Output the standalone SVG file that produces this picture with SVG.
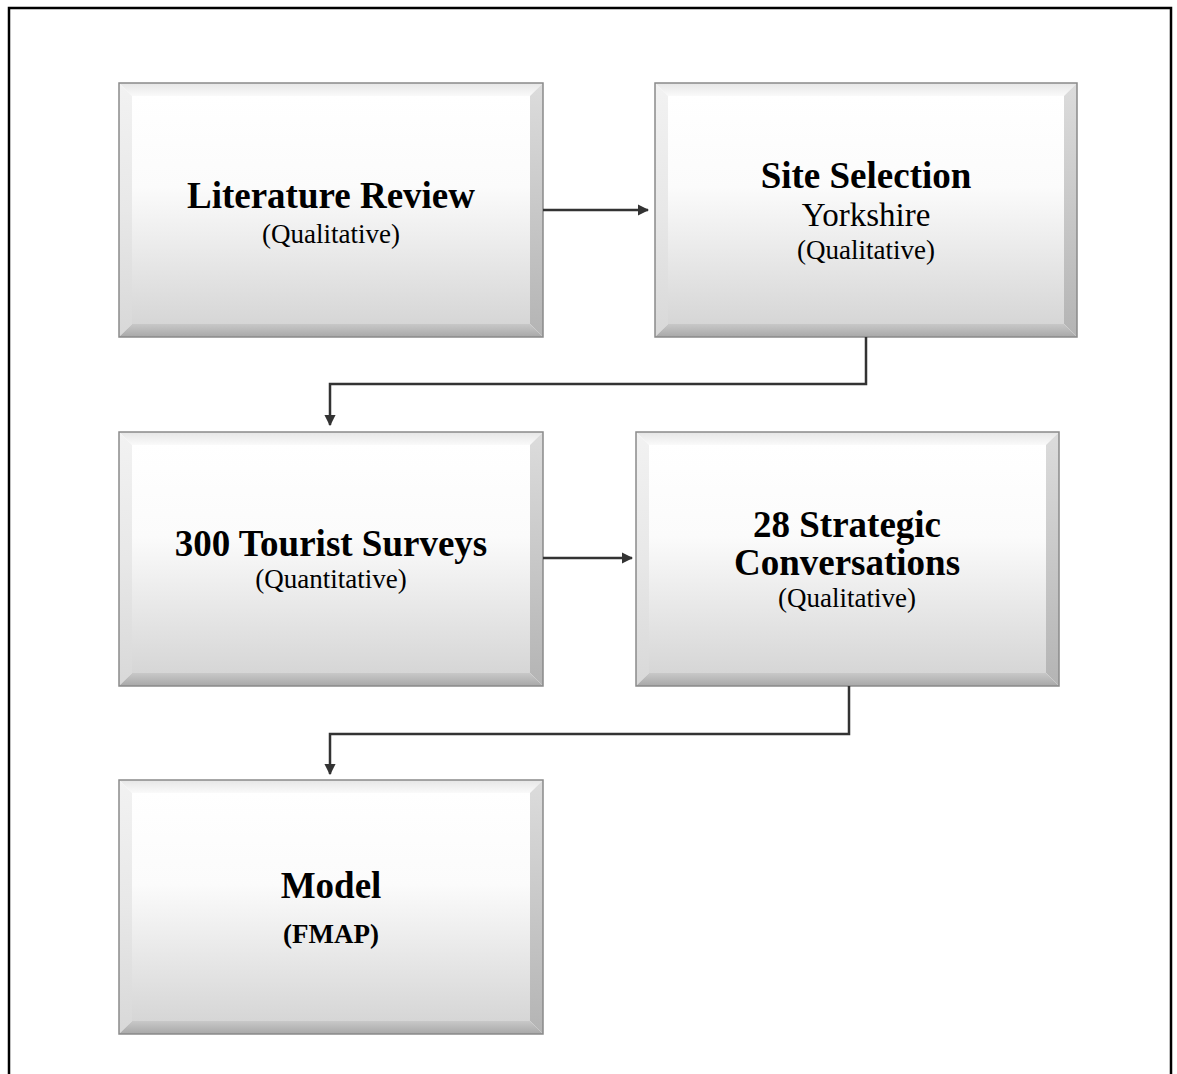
<svg xmlns="http://www.w3.org/2000/svg" width="1177" height="1074" viewBox="0 0 1177 1074">
<style>
.face{fill:url(#faceG)}
.bt{fill:url(#topG)}
.bl{fill:url(#leftG)}
.br{fill:url(#rightG)}
.bb{fill:url(#botG)}
.edge{fill:none;stroke:#8a8a8a;stroke-width:1.5}
.t{font-family:"Liberation Serif","Times New Roman",serif;text-anchor:middle;fill:#000}
.h{font-weight:bold;font-size:37px}
.s{font-size:27px}
.m{font-size:33px}
.conn{fill:none;stroke:#333;stroke-width:2.5}
</style>
<defs>
<linearGradient id="faceG" x1="0" y1="0" x2="0" y2="1">
<stop offset="0" stop-color="#ffffff"/>
<stop offset="0.4" stop-color="#fbfbfb"/>
<stop offset="1" stop-color="#d6d6d6"/>
</linearGradient>
<linearGradient id="topG" x1="0" y1="0" x2="0" y2="1">
<stop offset="0" stop-color="#e6e6e6"/>
<stop offset="1" stop-color="#fafafa"/>
</linearGradient>
<linearGradient id="leftG" x1="0" y1="0" x2="0" y2="1">
<stop offset="0" stop-color="#f2f2f2"/>
<stop offset="0.5" stop-color="#e8e8e8"/>
<stop offset="1" stop-color="#d8d8d8"/>
</linearGradient>
<linearGradient id="rightG" x1="0" y1="0" x2="0" y2="1">
<stop offset="0" stop-color="#dcdcdc"/>
<stop offset="1" stop-color="#b4b4b4"/>
</linearGradient>
<linearGradient id="botG" x1="0" y1="0" x2="0" y2="1">
<stop offset="0" stop-color="#c8c8c8"/>
<stop offset="1" stop-color="#a8a8a8"/>
</linearGradient>
<marker id="arr" viewBox="0 0 10 10" refX="9" refY="5" markerWidth="4.5" markerHeight="4.5" orient="auto" markerUnits="strokeWidth">
<path d="M0,0 L10,5 L0,10 z" fill="#333"/>
</marker>
</defs>
<rect x="0" y="0" width="1177" height="1074" fill="#fff"/>
<path d="M9,1074 V8 H1171 V1074" fill="none" stroke="#000" stroke-width="2.5"/>

<g id="node-literature" transform="translate(119,83)">
<polygon class="bt" points="0,0 424,0 411,13 13,13"/>
<polygon class="bl" points="0,0 13,13 13,241 0,254"/>
<polygon class="br" points="424,0 424,254 411,241 411,13"/>
<polygon class="bb" points="0,254 13,241 411,241 424,254"/>
<rect class="face" x="13" y="13" width="398" height="228"/>
<rect class="edge" x="0" y="0" width="424" height="254"/>
<text class="t h" x="212" y="125">Literature Review</text>
<text class="t s" x="212" y="160">(Qualitative)</text>
</g>

<g id="node-site" transform="translate(655,83)">
<polygon class="bt" points="0,0 422,0 409,13 13,13"/>
<polygon class="bl" points="0,0 13,13 13,241 0,254"/>
<polygon class="br" points="422,0 422,254 409,241 409,13"/>
<polygon class="bb" points="0,254 13,241 409,241 422,254"/>
<rect class="face" x="13" y="13" width="396" height="228"/>
<rect class="edge" x="0" y="0" width="422" height="254"/>
<text class="t h" x="211" y="105">Site Selection</text>
<text class="t m" x="211" y="143">Yorkshire</text>
<text class="t s" x="211" y="176">(Qualitative)</text>
</g>

<g id="node-surveys" transform="translate(119,432)">
<polygon class="bt" points="0,0 424,0 411,13 13,13"/>
<polygon class="bl" points="0,0 13,13 13,241 0,254"/>
<polygon class="br" points="424,0 424,254 411,241 411,13"/>
<polygon class="bb" points="0,254 13,241 411,241 424,254"/>
<rect class="face" x="13" y="13" width="398" height="228"/>
<rect class="edge" x="0" y="0" width="424" height="254"/>
<text class="t h" x="212" y="124">300 Tourist Surveys</text>
<text class="t s" x="212" y="156">(Quantitative)</text>
</g>

<g id="node-conversations" transform="translate(636,432)">
<polygon class="bt" points="0,0 423,0 410,13 13,13"/>
<polygon class="bl" points="0,0 13,13 13,241 0,254"/>
<polygon class="br" points="423,0 423,254 410,241 410,13"/>
<polygon class="bb" points="0,254 13,241 410,241 423,254"/>
<rect class="face" x="13" y="13" width="397" height="228"/>
<rect class="edge" x="0" y="0" width="423" height="254"/>
<text class="t h" x="211" y="105">28 Strategic</text>
<text class="t h" x="211" y="143">Conversations</text>
<text class="t s" x="211" y="175">(Qualitative)</text>
</g>

<g id="node-model" transform="translate(119,780)">
<polygon class="bt" points="0,0 424,0 411,13 13,13"/>
<polygon class="bl" points="0,0 13,13 13,241 0,254"/>
<polygon class="br" points="424,0 424,254 411,241 411,13"/>
<polygon class="bb" points="0,254 13,241 411,241 424,254"/>
<rect class="face" x="13" y="13" width="398" height="228"/>
<rect class="edge" x="0" y="0" width="424" height="254"/>
<text class="t h" x="212" y="118">Model</text>
<text class="t" x="212" y="163" style="font-weight:bold;font-size:27px">(FMAP)</text>
</g>

<g id="connectors">
<path class="conn" d="M543,210 H648" marker-end="url(#arr)"/>
<path class="conn" d="M866,337 V384 H330 V425" marker-end="url(#arr)"/>
<path class="conn" d="M543,558 H632" marker-end="url(#arr)"/>
<path class="conn" d="M849,686 V734 H330 V774" marker-end="url(#arr)"/>
</g>
</svg>
